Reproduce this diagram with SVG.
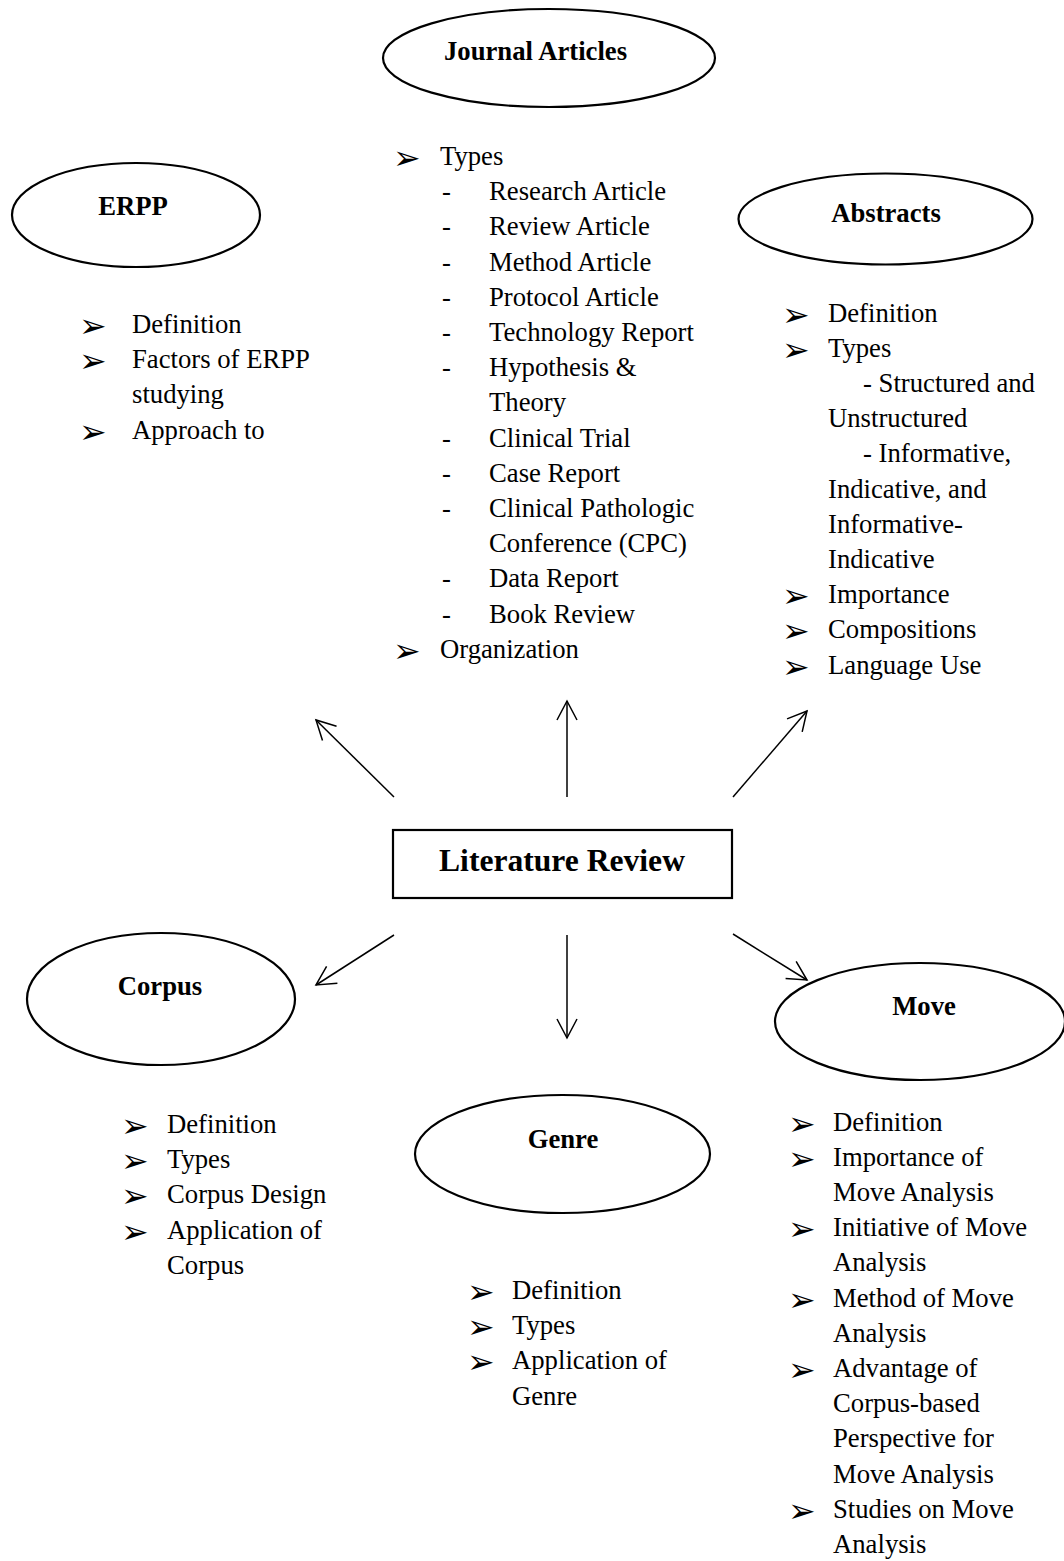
<svg xmlns="http://www.w3.org/2000/svg" width="1064" height="1561" viewBox="0 0 1064 1561">
  <defs>
    <style>
      .bg { fill: #ffffff; }
      .node-shape { fill: none; stroke: #000000; stroke-width: 2.2; }
      .label { font-family: "Liberation Serif", "Times New Roman", serif; font-weight: bold; font-size: 26.7px; fill: #000000; text-anchor: middle; }
      .title { font-family: "Liberation Serif", "Times New Roman", serif; font-weight: bold; font-size: 31.6px; fill: #000000; text-anchor: middle; }
      .item { font-family: "Liberation Serif", "Times New Roman", serif; font-size: 26.7px; fill: #000000; }
      .bullet { font-family: "DejaVu Sans", sans-serif; font-size: 33px; fill: #000000; transform: translateY(4px); }
      .link { fill: none; stroke: #000000; stroke-width: 1.5; marker-end: url(#open-arrow); }
    </style>
    <marker id="open-arrow" markerUnits="userSpaceOnUse" markerWidth="24" markerHeight="24" viewBox="-21 -12 24 24" refX="0" refY="0" orient="auto">
      <path d="M-19,-10 L0,0 L-19,10" fill="none" stroke="#000000" stroke-width="1.5"/>
    </marker>
  </defs>

  <rect class="bg" x="0" y="0" width="1064" height="1561"/>

  <!-- connectors from the central box -->
  <g id="connectors">
    <line class="link" x1="394" y1="797" x2="316" y2="720"/>
    <line class="link" x1="567" y1="797" x2="567" y2="701"/>
    <line class="link" x1="733" y1="797" x2="807" y2="711"/>
    <line class="link" x1="394" y1="935" x2="316" y2="985"/>
    <line class="link" x1="567" y1="935" x2="567" y2="1038"/>
    <line class="link" x1="733" y1="934" x2="807" y2="980"/>
  </g>

  <!-- central topic -->
  <g id="literature-review">
    <rect class="node-shape" x="393" y="830" width="339" height="68"/>
    <text class="title" x="562" y="871">Literature Review</text>
  </g>

  <!-- Journal Articles -->
  <g id="journal-articles">
    <ellipse class="node-shape" cx="549" cy="58" rx="166" ry="49"/>
    <text class="label" x="535.5" y="60">Journal Articles</text>
    <g class="list">
      <text class="bullet" x="393" y="165">➢</text>
      <text class="item" x="440" y="165">Types</text>
      <text class="item" x="442" y="200.2">-</text><text class="item" x="489" y="200.2">Research Article</text>
      <text class="item" x="442" y="235.4">-</text><text class="item" x="489" y="235.4">Review Article</text>
      <text class="item" x="442" y="270.6">-</text><text class="item" x="489" y="270.6">Method Article</text>
      <text class="item" x="442" y="305.8">-</text><text class="item" x="489" y="305.8">Protocol Article</text>
      <text class="item" x="442" y="341">-</text><text class="item" x="489" y="341">Technology Report</text>
      <text class="item" x="442" y="376.2">-</text><text class="item" x="489" y="376.2">Hypothesis &amp;</text>
      <text class="item" x="489" y="411.4">Theory</text>
      <text class="item" x="442" y="446.6">-</text><text class="item" x="489" y="446.6">Clinical Trial</text>
      <text class="item" x="442" y="481.8">-</text><text class="item" x="489" y="481.8">Case Report</text>
      <text class="item" x="442" y="517">-</text><text class="item" x="489" y="517">Clinical Pathologic</text>
      <text class="item" x="489" y="552.2">Conference (CPC)</text>
      <text class="item" x="442" y="587.4">-</text><text class="item" x="489" y="587.4">Data Report</text>
      <text class="item" x="442" y="622.6">-</text><text class="item" x="489" y="622.6">Book Review</text>
      <text class="bullet" x="393" y="657.8">➢</text>
      <text class="item" x="440" y="657.8">Organization</text>
    </g>
  </g>

  <!-- ERPP -->
  <g id="erpp">
    <ellipse class="node-shape" cx="136" cy="215" rx="124" ry="52"/>
    <text class="label" x="133" y="215">ERPP</text>
    <text class="bullet" x="79" y="333">➢</text>
    <text class="item" x="132" y="333">Definition</text>
    <text class="bullet" x="79" y="368.2">➢</text>
    <text class="item" x="132" y="368.2">Factors of ERPP</text>
    <text class="item" x="132" y="403.4">studying</text>
    <text class="bullet" x="79" y="438.6">➢</text>
    <text class="item" x="132" y="438.6">Approach to</text>
  </g>

  <!-- Abstracts -->
  <g id="abstracts">
    <ellipse class="node-shape" cx="885.5" cy="219" rx="147" ry="45.5"/>
    <text class="label" x="886" y="222">Abstracts</text>
    <text class="bullet" x="782" y="321.5">➢</text>
    <text class="item" x="828" y="321.5">Definition</text>
    <text class="bullet" x="782" y="356.7">➢</text>
    <text class="item" x="828" y="356.7">Types</text>
    <text class="item" x="863" y="391.9">- Structured and</text>
    <text class="item" x="828" y="427.1">Unstructured</text>
    <text class="item" x="863" y="462.3">- Informative,</text>
    <text class="item" x="828" y="497.5">Indicative, and</text>
    <text class="item" x="828" y="532.7">Informative-</text>
    <text class="item" x="828" y="567.9">Indicative</text>
    <text class="bullet" x="782" y="603.1">➢</text>
    <text class="item" x="828" y="603.1">Importance</text>
    <text class="bullet" x="782" y="638.3">➢</text>
    <text class="item" x="828" y="638.3">Compositions</text>
    <text class="bullet" x="782" y="673.5">➢</text>
    <text class="item" x="828" y="673.5">Language Use</text>
  </g>

  <!-- Corpus -->
  <g id="corpus">
    <ellipse class="node-shape" cx="161" cy="999" rx="134" ry="66"/>
    <text class="label" x="160" y="995">Corpus</text>
    <text class="bullet" x="121" y="1133">➢</text>
    <text class="item" x="167" y="1133">Definition</text>
    <text class="bullet" x="121" y="1168.2">➢</text>
    <text class="item" x="167" y="1168.2">Types</text>
    <text class="bullet" x="121" y="1203.4">➢</text>
    <text class="item" x="167" y="1203.4">Corpus Design</text>
    <text class="bullet" x="121" y="1238.6">➢</text>
    <text class="item" x="167" y="1238.6">Application of</text>
    <text class="item" x="167" y="1273.8">Corpus</text>
  </g>

  <!-- Genre -->
  <g id="genre">
    <ellipse class="node-shape" cx="562.5" cy="1154" rx="147.5" ry="59"/>
    <text class="label" x="563" y="1148">Genre</text>
    <text class="bullet" x="467" y="1299">➢</text>
    <text class="item" x="512" y="1299">Definition</text>
    <text class="bullet" x="467" y="1334.2">➢</text>
    <text class="item" x="512" y="1334.2">Types</text>
    <text class="bullet" x="467" y="1369.4">➢</text>
    <text class="item" x="512" y="1369.4">Application of</text>
    <text class="item" x="512" y="1404.6">Genre</text>
  </g>

  <!-- Move -->
  <g id="move">
    <ellipse class="node-shape" cx="920" cy="1021.5" rx="145" ry="58.5"/>
    <text class="label" x="924" y="1015">Move</text>
    <text class="bullet" x="788" y="1130.5">➢</text>
    <text class="item" x="833" y="1130.5">Definition</text>
    <text class="bullet" x="788" y="1165.7">➢</text>
    <text class="item" x="833" y="1165.7">Importance of</text>
    <text class="item" x="833" y="1200.9">Move Analysis</text>
    <text class="bullet" x="788" y="1236.1">➢</text>
    <text class="item" x="833" y="1236.1">Initiative of Move</text>
    <text class="item" x="833" y="1271.3">Analysis</text>
    <text class="bullet" x="788" y="1306.5">➢</text>
    <text class="item" x="833" y="1306.5">Method of Move</text>
    <text class="item" x="833" y="1341.7">Analysis</text>
    <text class="bullet" x="788" y="1376.9">➢</text>
    <text class="item" x="833" y="1376.9">Advantage of</text>
    <text class="item" x="833" y="1412.1">Corpus-based</text>
    <text class="item" x="833" y="1447.3">Perspective for</text>
    <text class="item" x="833" y="1482.5">Move Analysis</text>
    <text class="bullet" x="788" y="1517.7">➢</text>
    <text class="item" x="833" y="1517.7">Studies on Move</text>
    <text class="item" x="833" y="1552.9">Analysis</text>
  </g>
</svg>
